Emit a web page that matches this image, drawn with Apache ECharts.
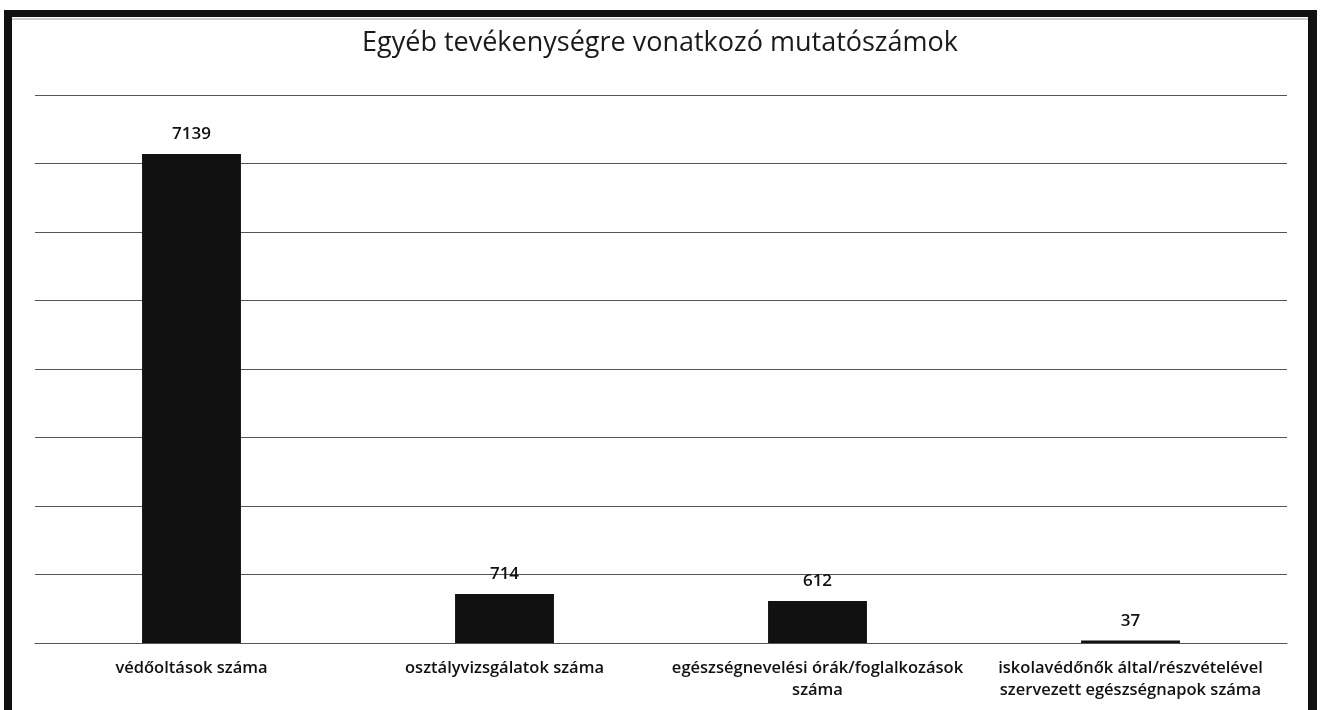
<!DOCTYPE html>
<html>
<head>
<meta charset="utf-8">
<script src="https://cdn.jsdelivr.net/npm/echarts@6/dist/echarts.min.js"></script>
<style>
  html, body { margin: 0; padding: 0; background: #fff; }
  #chart { width: 1320px; height: 710px; }
</style>
</head>
<body>
<div id="chart"></div>
<script>
// Indicators of other activities
const categories = [
  'védőoltások száma',
  'osztályvizsgálatok száma',
  'egészségnevelési órák/foglalkozások\nszáma',
  'iskolavédőnők által/részvételével\nszervezett egészségnapok száma'
];
const values = [7139, 714, 612, 37];
const titleText = 'Egyéb tevékenységre vonatkozó mutatószámok';

const FONT = '"Open Sans", Lato, sans-serif';

const chart = echarts.init(document.getElementById('chart'), null, { renderer: 'canvas' });
chart.setOption({
  backgroundColor: '#ffffff',
  animation: false,
  title: {
    text: titleText,
    left: 'center',
    top: 25,
    textStyle: { fontFamily: FONT, fontSize: 27, fontWeight: 'normal', color: '#1a1a1a' }
  },
  graphic: [
    // frame: left, top and right edges
    { type: 'rect', shape: { x: 4, y: 10, width: 8, height: 700 }, style: { fill: '#111' } },
    { type: 'rect', shape: { x: 4, y: 10, width: 1313, height: 7 }, style: { fill: '#111' } },
    { type: 'rect', shape: { x: 1308, y: 10, width: 9, height: 700 }, style: { fill: '#111' } },
    { type: 'line', shape: { x1: 12, y1: 19, x2: 1308, y2: 19 }, style: { stroke: '#999', lineWidth: 1 } }
  ],
  grid: { left: 35, right: 33, top: 95, bottom: 67, containLabel: false },
  xAxis: {
    type: 'category',
    data: categories,
    axisTick: { show: false },
    axisLine: { lineStyle: { color: '#555', width: 1 } },
    axisLabel: {
      interval: 0,
      margin: 14,
      fontFamily: FONT,
      fontSize: 16.5,
      fontWeight: 600,
      color: '#111',
      lineHeight: 22,
      align: 'center'
    }
  },
  yAxis: {
    type: 'value',
    min: 0,
    max: 8000,
    interval: 1000,
    axisLabel: { show: false },
    axisLine: { show: false },
    axisTick: { show: false },
    splitLine: { lineStyle: { color: '#555', width: 1 } }
  },
  series: [{
    type: 'bar',
    data: values,
    barWidth: '31.6%',
    itemStyle: { color: '#111' },
    label: {
      show: true,
      position: 'top',
      distance: 11,
      fontFamily: FONT,
      fontSize: 17,
      fontWeight: 600,
      color: '#111'
    }
  }]
});
</script>
</body>
</html>
